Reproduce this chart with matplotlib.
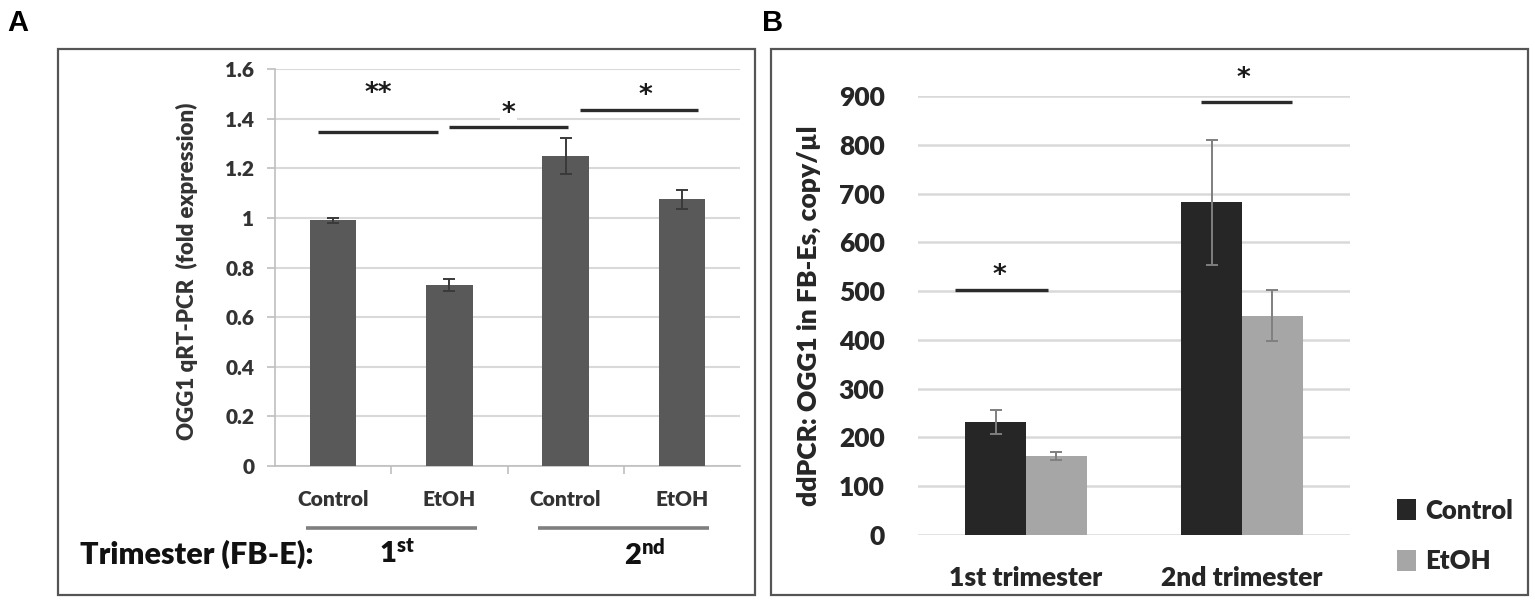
import matplotlib
matplotlib.use("Agg")
import matplotlib.pyplot as plt
from matplotlib.patches import Rectangle, Patch
import numpy as np

plt.rcParams["font.family"] = ["Lato", "DejaVu Sans"]
plt.rcParams["font.weight"] = "heavy"
plt.rcParams["axes.labelweight"] = "heavy"
plt.rcParams["mathtext.default"] = "regular"

W, H = 1535, 603

# panel A data
a_labels = ["Control", "EtOH", "Control", "EtOH"]
a_values = [0.99, 0.73, 1.25, 1.075]
a_errors = [0.01, 0.025, 0.072, 0.038]
a_ticks = [0, 0.2, 0.4, 0.6, 0.8, 1, 1.2, 1.4, 1.6]
# significance bars: (x start, x end, height, star text, star x, star y, masks grid)
a_sig = [
    (-0.13, 0.90, 1.347, "**", 0.39, 1.50, False),
    (1.00, 2.02, 1.367, "*", 1.51, 1.42, True),
    (2.12, 3.14, 1.435, "*", 2.69, 1.49, False),
]

# panel B data
b_groups = ["1st trimester", "2nd trimester"]
b_control = [232, 682]
b_control_err = [25, 128]
b_etoh = [162, 450]
b_etoh_err = [8, 53]
b_ticks = list(range(0, 1000, 100))
b_sig = [
    (-0.33, 0.10, 503, -0.125, 530),
    (0.81, 1.23, 887, 1.005, 934),
]

STAR_FONT = ["DejaVu Sans"]


def fx(x):
    return x / W


def fy(y):
    return 1 - y / H


def axes_box(left, top, right, bottom):
    return [fx(left), fy(bottom), (right - left) / W, (bottom - top) / H]


fig = plt.figure(figsize=(W / 100, H / 100), dpi=100)

# frames
for l, t, r, b in [(58, 49, 755, 595), (771, 49, 1528, 595)]:
    fig.patches.append(Rectangle((fx(l), fy(b)), (r - l) / W, (b - t) / H,
                                 transform=fig.transFigure, fill=False,
                                 edgecolor="#555555", linewidth=1.6))
fig.text(fx(7), fy(23), "A", fontsize=21, fontweight="bold",
         family="Liberation Sans", va="center", ha="left")
fig.text(fx(762), fy(23), "B", fontsize=21, fontweight="bold",
         family="Liberation Sans", va="center", ha="left")

# ---- panel A ----
ax = fig.add_axes(axes_box(275, 69, 740, 466))
x = np.arange(len(a_values))
ax.bar(x, a_values, width=0.4, color="#595959", zorder=3)
ax.errorbar(x, a_values, yerr=a_errors, fmt="none", ecolor="#3a3a3a",
            elinewidth=1.4, capsize=4, capthick=1.4, zorder=4)
ax.set_xlim(-0.5, 3.5)
ax.set_ylim(0, 1.6)
ax.set_yticks(a_ticks)
ax.set_yticklabels([f"{t:g}" for t in a_ticks])
ax.yaxis.grid(True, color="#d9d9d9", linewidth=1.5, zorder=0)
ax.set_axisbelow(True)
for s in ["top", "right"]:
    ax.spines[s].set_visible(False)
ax.spines["left"].set_color("#bfbfbf")
ax.spines["bottom"].set_color("#bfbfbf")
ax.spines["left"].set_linewidth(1.2)
ax.spines["bottom"].set_linewidth(1.2)
ax.set_xticks(x)
ax.set_xticklabels(a_labels)
ax.set_xticks(np.arange(0.5, 3.5, 1), minor=True)
ax.tick_params(axis="x", which="major", length=0, pad=17, labelsize=15,
               labelcolor="#333333")
ax.tick_params(axis="x", which="minor", length=6, color="#bfbfbf", width=1.2)
ax.tick_params(axis="y", length=6, color="#bfbfbf", width=1.2, pad=9,
               labelsize=15, labelcolor="#333333")
ax.set_ylabel("OGG1 qRT-PCR  (fold expression)", fontsize=16,
              color="#333333")
ax.yaxis.set_label_coords(-0.165, 0.49)

for x0, x1, h, star, sx, sy, mask in a_sig:
    ax.plot([x0, x1], [h, h], color="#2b2b2b", linewidth=2.4,
            solid_capstyle="butt", zorder=5, clip_on=False)
    box = dict(facecolor="white", edgecolor="none", pad=1) if mask else None
    ax.text(sx, sy, star, ha="center", va="center", fontsize=19,
            family=STAR_FONT, fontweight="bold", color="#1a1a1a", zorder=4.5,
            bbox=box)

# group underlines and trimester labels
for x0, x1 in [(-0.23, 1.24), (1.76, 3.23)]:
    ax.plot([x0, x1], [-0.25, -0.25], color="#7f7f7f", linewidth=2.6,
            solid_capstyle="butt", clip_on=False)
fig.text(fx(80), fy(554), "Trimester (FB-E):", fontsize=22,
         va="center", ha="left", color="#111111")
fig.text(fx(379), fy(554), r"1$^{st}$", fontsize=21,
         va="center", ha="left", color="#111111")
fig.text(fx(624), fy(554), r"2$^{nd}$", fontsize=21,
         va="center", ha="left", color="#111111")

# ---- panel B ----
bx = fig.add_axes(axes_box(918, 96, 1350, 535))
g = np.arange(len(b_groups))
bw = 0.282
bx.bar(g - bw / 2, b_control, width=bw, color="#262626", zorder=3,
       label="Control")
bx.bar(g + bw / 2, b_etoh, width=bw, color="#a6a6a6", zorder=3,
       label="EtOH")
bx.errorbar(g - bw / 2, b_control, yerr=b_control_err, fmt="none",
            ecolor="#7f7f7f", elinewidth=1.4, capsize=4, capthick=1.4,
            zorder=4)
bx.errorbar(g + bw / 2, b_etoh, yerr=b_etoh_err, fmt="none",
            ecolor="#7f7f7f", elinewidth=1.4, capsize=4, capthick=1.4,
            zorder=4)
bx.set_xlim(-0.5, 1.5)
bx.set_ylim(0, 900)
bx.set_yticks(b_ticks)
bx.yaxis.grid(True, color="#d9d9d9", linewidth=1.8, zorder=0)
bx.set_axisbelow(True)
for s in bx.spines.values():
    s.set_visible(False)
bx.set_xticks(g)
bx.set_xticklabels(b_groups)
bx.tick_params(axis="x", length=0, pad=22, labelsize=19, labelcolor="#262626")
bx.tick_params(axis="y", length=0, pad=24, labelsize=19, labelcolor="#262626")
bx.set_ylabel("ddPCR: OGG1 in FB-Es, copy/\u00b5l", fontsize=19,
              color="#262626")
bx.yaxis.set_label_coords(-0.225, 0.5)

for x0, x1, h, sx, sy in b_sig:
    bx.plot([x0, x1], [h, h], color="#2b2b2b", linewidth=2.4,
            solid_capstyle="butt", zorder=5, clip_on=False)
    bx.text(sx, sy, "*", ha="center", va="center", fontsize=19,
            family=STAR_FONT, fontweight="bold", color="#1a1a1a", zorder=6,
            clip_on=False)

handles = [Patch(facecolor="#262626", label="Control"),
           Patch(facecolor="#a6a6a6", label="EtOH")]
fig.legend(handles=handles, loc="center left",
           bbox_to_anchor=(fx(1374), fy(536)), frameon=False, fontsize=18.5,
           handlelength=0.75, handleheight=0.85, handletextpad=0.35,
           labelspacing=1.05, labelcolor="#262626")

fig.savefig("out.png", dpi=100)
